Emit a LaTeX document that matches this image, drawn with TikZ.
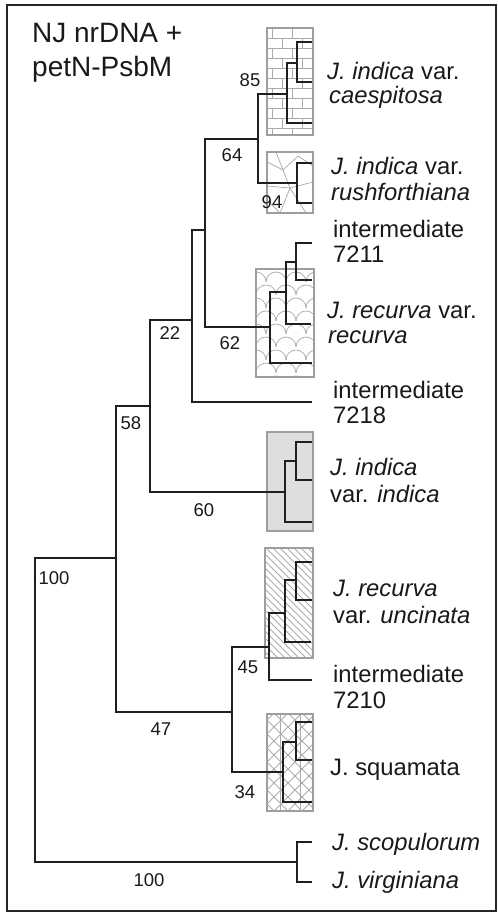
\documentclass[tikz,border=0pt]{standalone}
\usepackage{fontspec}
\setmainfont{Liberation Sans}
\begin{document}
\begin{tikzpicture}[x=1pt,y=-1pt,
  br/.style={line width=2pt, draw=black!88},
  clbox/.style={draw=black!38, line width=1.8pt},
  pat/.style={draw=black!33, line width=0.75pt},
  sp/.style={anchor=base west, inner sep=0pt, font=\fontsize{23.8}{27}\selectfont, text=black!90},
  bs/.style={anchor=center, inner sep=0pt, font=\fontsize{18.5}{20}\selectfont, text=black!90},
  ttl/.style={anchor=base west, inner sep=0pt, font=\fontsize{28}{32}\selectfont, text=black!90}]
\useasboundingbox (0,0) rectangle (498,913);
\draw[line width=2.2pt, black!85] (7,5) rectangle (496,911);

% ---------- clade boxes with patterns ----------
% caespitosa: bricks
\begin{scope}
\clip (267,28) rectangle (313,135);
\foreach \i in {0,...,10} {
  \pgfmathsetmacro\yy{28+\i*10}
  \pgfmathsetmacro\off{mod(\i,2)*10}
  \draw[pat] (267,\yy) -- (313,\yy);
  \foreach \k in {0,1,2} { \draw[pat] ({267+\off+\k*20+5},\yy) -- ++(0,10); }
}
\end{scope}
\draw[clbox] (267,28) rectangle (313,135);

% rushforthiana: irregular net
\begin{scope}
\clip (267,152) rectangle (313,213);
\draw[pat] (267,162) -- (283,170) -- (298,156) -- (313,166);
\draw[pat] (283,170) -- (290,188) -- (313,182);
\draw[pat] (267,186) -- (290,188) -- (280,213);
\draw[pat] (290,188) -- (306,213);
\draw[pat] (276,152) -- (283,170);
\draw[pat] (267,200) -- (280,213);
\end{scope}
\draw[clbox] (267,152) rectangle (313,213);

% recurva: scales
\begin{scope}
\clip (256,269) rectangle (314,377);
\foreach \r in {0,...,8} {
  \pgfmathsetmacro\yy{282+\r*13}
  \pgfmathsetmacro\off{mod(\r,2)*10}
  \foreach \k in {-1,0,1,2,3} {
    \draw[pat] ({246+\off+\k*20},\yy) arc[start angle=180,end angle=360,radius=10];
  }
}
\end{scope}
\draw[clbox] (256,269) rectangle (314,377);

% indica: grey fill
\draw[clbox, fill=black!13] (267,432) rectangle (313,531);

% uncinata: hatch
\begin{scope}
\clip (265,548) rectangle (313,658);
\foreach \k in {-50,-43,...,115} { \draw[pat] (265,548+\k) -- ++(48,48); }
\end{scope}
\draw[clbox] (265,548) rectangle (313,658);

% squamata: lattice
\begin{scope}
\clip (267,714) rectangle (313,811);
\foreach \k in {-50,-36,...,150} {
  \draw[pat] (267,714+\k) -- ++(46,46);
  \draw[pat] (267,714+\k) -- ++(46,-46);
}
\draw[pat] (280,714) -- (280,811);
\draw[pat] (300,714) -- (300,811);
\end{scope}
\draw[clbox] (267,714) rectangle (313,811);

% ---------- tree coordinates ----------
\coordinate (R) at (35,710);
\coordinate (A) at (116,558);
\coordinate (B) at (150,406);
\coordinate (C) at (232,712);
\coordinate (D) at (192,320);
\coordinate (E) at (205,230);
\coordinate (F) at (258,139);
\coordinate (H) at (287,94);
\coordinate (H2) at (297,63);
\coordinate (K) at (297,183);
\coordinate (G) at (270,327);
\coordinate (G2) at (286,292);
\coordinate (G3) at (296,262);
\coordinate (I) at (285,492);
\coordinate (I2) at (296,461);
\coordinate (L) at (269,647);
\coordinate (L2) at (285,613);
\coordinate (L3) at (296,580);
\coordinate (M) at (283,772);
\coordinate (M2) at (296,742);
\coordinate (S) at (297,862);
% leaves
\coordinate (c1) at (312,42);
\coordinate (c2) at (312,82);
\coordinate (c3) at (312,123);
\coordinate (r1) at (312,163);
\coordinate (r2) at (312,203);
\coordinate (t7211) at (312,243);
\coordinate (v1) at (312,280);
\coordinate (v2) at (311,324);
\coordinate (v3) at (312,363);
\coordinate (t7218) at (312,402);
\coordinate (i1) at (312,442);
\coordinate (i2) at (312,480);
\coordinate (i3) at (312,522);
\coordinate (u1) at (312,562);
\coordinate (u2) at (312,600);
\coordinate (u3) at (311,642);
\coordinate (t7210) at (312,680);
\coordinate (q1) at (312,722);
\coordinate (q2) at (312,760);
\coordinate (q3) at (312,802);
\coordinate (sc) at (312,842);
\coordinate (vi) at (312,882);

% ---------- branches ----------
\draw[br] (R) |- (A);  \draw[br] (R) |- (S);
\draw[br] (A) |- (B);  \draw[br] (A) |- (C);
\draw[br] (B) |- (D);  \draw[br] (B) |- (I);
\draw[br] (D) |- (E);  \draw[br] (D) |- (t7218);
\draw[br] (E) |- (F);  \draw[br] (E) |- (G);
\draw[br] (F) |- (H);  \draw[br] (F) |- (K);
\draw[br] (H) |- (H2); \draw[br] (H) |- (c3);
\draw[br] (H2) |- (c1); \draw[br] (H2) |- (c2);
\draw[br] (K) |- (r1); \draw[br] (K) |- (r2);
\draw[br] (G) |- (G2); \draw[br] (G) |- (v3);
\draw[br] (G2) |- (G3); \draw[br] (G2) |- (v2);
\draw[br] (G3) |- (t7211); \draw[br] (G3) |- (v1);
\draw[br] (I) |- (I2); \draw[br] (I) |- (i3);
\draw[br] (I2) |- (i1); \draw[br] (I2) |- (i2);
\draw[br] (C) |- (L);  \draw[br] (C) |- (M);
\draw[br] (L) |- (L2); \draw[br] (L) |- (t7210);
\draw[br] (L2) |- (L3); \draw[br] (L2) |- (u3);
\draw[br] (L3) |- (u1); \draw[br] (L3) |- (u2);
\draw[br] (M) |- (M2); \draw[br] (M) |- (q3);
\draw[br] (M2) |- (q1); \draw[br] (M2) |- (q2);
\draw[br] (S) |- (sc); \draw[br] (S) |- (vi);

% ---------- bootstrap values ----------
\node[bs] (b85) at (250,80) {85};
\node[bs] (b64) at (232,155) {64};
\node[bs] (b94) at (272,202) {94};
\node[bs] (b62) at (230,343) {62};
\node[bs] (b22) at (170,333) {22};
\node[bs] (b58) at (131,423) {58};
\node[bs] (b60) at (204,510) {60};
\node[bs] (b100a) at (54,578) {100};
\node[bs] (b45) at (248,667) {45};
\node[bs] (b47) at (161,729) {47};
\node[bs] (b34) at (245,792) {34};
\node[bs] (b100b) at (149,880) {100};

% ---------- title ----------
\node[ttl] (ti1) at (32,42) {NJ nrDNA +};
\node[ttl] (ti2) at (32,76) {petN-PsbM};

% ---------- taxon labels ----------
\node[sp] (l1a) at (327,79) {\itshape J. indica \upshape var.};
\node[sp] (l1b) at (329,103) {\itshape caespitosa};
\node[sp] (l2a) at (331,174) {\itshape J. indica \upshape var.};
\node[sp] (l2b) at (331,200) {\itshape rushforthiana};
\node[sp] (l3a) at (333,237) {intermediate};
\node[sp] (l3b) at (333,262) {7211};
\node[sp] (l4a) at (327,318) {\itshape J. recurva \upshape var.};
\node[sp] (l4b) at (328,343) {\itshape recurva};
\node[sp] (l5a) at (333,398) {intermediate};
\node[sp] (l5b) at (333,423) {7218};
\node[sp] (l6a) at (330,475) {\itshape J. indica};
\node[sp] (l6b) at (330,502) {var. \itshape indica};
\node[sp] (l7a) at (333,596) {\itshape J. recurva};
\node[sp] (l7b) at (333,623) {var. \itshape uncinata};
\node[sp] (l8a) at (333,682) {intermediate};
\node[sp] (l8b) at (333,708) {7210};
\node[sp] (l9) at (330,775) {J. squamata};
\node[sp] (l10) at (332,850) {\itshape J. scopulorum};
\node[sp] (l11) at (332,888) {\itshape J. virginiana};
\end{tikzpicture}
\end{document}
